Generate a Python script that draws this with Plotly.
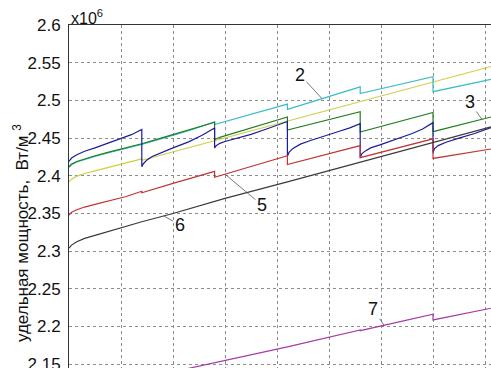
import plotly.graph_objects as go

# ---- data (values in units of 10^6 W/m^3) ----
x_blue = [0, 0.05, 0.15, 0.3, 0.5, 0.75, 1.0, 1.2, 1.4,
          1.4, 1.43, 1.5, 1.6, 1.75, 2.0, 2.3, 2.55, 2.8,
          2.8, 2.83, 2.9, 3.0, 3.2, 3.5, 3.8, 4.0, 4.2,
          4.2, 4.23, 4.3, 4.45, 4.63, 4.9, 5.2, 5.4, 5.6,
          5.6, 5.63, 5.7, 5.8, 5.98, 6.3, 6.6, 6.8, 7.0,
          7.0, 7.03, 7.1, 7.25, 7.5, 7.8, 8.115]
y_blue = [2.419, 2.4235, 2.428, 2.4325, 2.437, 2.443, 2.449, 2.4545, 2.4615,
          2.412, 2.416, 2.421, 2.4255, 2.430, 2.437, 2.445, 2.4535, 2.4635,
          2.437, 2.440, 2.443, 2.4455, 2.449, 2.455, 2.462, 2.4665, 2.472,
          2.426, 2.431, 2.436, 2.442, 2.4465, 2.452, 2.459, 2.4635, 2.469,
          2.424, 2.429, 2.433, 2.437, 2.441, 2.4485, 2.456, 2.462, 2.4705,
          2.431, 2.436, 2.440, 2.4445, 2.450, 2.456, 2.464]

x_green = [0, 0.05, 0.15, 0.3, 0.5, 0.8, 1.1, 1.4, 1.8, 2.3, 2.8,
           2.8, 2.9, 4.2, 4.2, 5.6, 5.6, 7.0, 7.0, 8.115]
y_green = [2.412, 2.4155, 2.419, 2.4225, 2.4265, 2.432, 2.437, 2.4425, 2.4505, 2.4605, 2.471,
           2.448, 2.451, 2.478, 2.4607, 2.485, 2.458, 2.484, 2.4585, 2.478]

x_cyan = [0, 0.05, 0.15, 0.3, 0.5, 0.8, 1.1, 1.4, 1.8, 2.3, 2.8,
          2.8, 4.2, 4.2, 5.6, 5.6, 7.0, 7.0, 8.115]
y_cyan = [2.4112, 2.4147, 2.4182, 2.4217, 2.4257, 2.4312, 2.4362, 2.4417, 2.4497, 2.4597, 2.4715,
          2.468, 2.495, 2.488, 2.518, 2.509, 2.5315, 2.5116, 2.528]

x_yellow = [0, 0.05, 0.15, 0.3, 0.5, 0.8, 1.1, 1.4,
            1.4, 2.8, 2.8, 4.2, 4.2, 5.6, 5.6, 7.0, 7.0, 8.115]
y_yellow = [2.392, 2.3955, 2.3995, 2.403, 2.4065, 2.4115, 2.4165, 2.4225,
            2.4205, 2.4465, 2.4455, 2.4725, 2.4715, 2.4985, 2.4975, 2.5245, 2.5235, 2.545]

x_red = [0, 0.05, 0.15, 0.3, 0.5, 0.8, 1.1, 1.4,
         1.4, 2.0, 2.8, 2.8, 4.2, 4.2, 5.6, 5.6, 7.0, 7.0, 8.115]
y_red = [2.348, 2.3515, 2.355, 2.3585, 2.362, 2.367, 2.3725, 2.3795,
         2.3775, 2.390, 2.4058, 2.398, 2.4265, 2.415, 2.440, 2.424, 2.449, 2.423, 2.4355]

x_black = [0, 0.05, 0.15, 0.3, 0.5, 0.8, 1.1, 1.4, 2.0, 2.8, 3.0, 4.2, 5.6, 7.0, 8.115]
y_black = [2.304, 2.308, 2.3125, 2.317, 2.321, 2.327, 2.3335, 2.339, 2.350, 2.366, 2.370,
           2.392, 2.418, 2.445, 2.465]

x_magenta = [0, 2.6, 4.2, 5.6, 5.6, 7.0, 7.0, 8.115]
y_magenta = [2.110, 2.149, 2.173, 2.1955, 2.1945, 2.2163, 2.2088, 2.2243]

y_ticks = [2.15, 2.2, 2.25, 2.3, 2.35, 2.4, 2.45, 2.5, 2.55, 2.6]
y_tick_text = ["2.15", "2.2", "2.25", "2.3", "2.35", "2.4", "2.45", "2.5", "2.55", "2.6"]

# curve labels: (text, x, y on curve, text offset in px)
labels = [("2", 4.865, 2.5023, -22, -24),
          ("3", 7.94, 2.4749, -12, -17),
          ("5", 3.0, 2.4021, 37, 31),
          ("6", 1.82, 2.3468, 16, 9),
          ("7", 6.06, 2.2017, -11, -16)]

series = [
    (x_yellow, y_yellow, "#cfcf48"),
    (x_cyan, y_cyan, "#3cbcc4"),
    (x_green, y_green, "#1f7f1f"),
    (x_blue, y_blue, "#1c1c9c"),
    (x_red, y_red, "#c03434"),
    (x_black, y_black, "#3a3a3a"),
    (x_magenta, y_magenta, "#a63aa6"),
]

fig = go.Figure()
for xs, ys, col in series:
    fig.add_trace(go.Scatter(x=xs, y=ys, mode="lines",
                             line=dict(color=col, width=1.2), showlegend=False))

font_main = "Liberation Sans, Arial, sans-serif"

for txt, lx, ly, ax, ay in labels:
    fig.add_annotation(x=lx, y=ly, text=txt, showarrow=True, arrowhead=0,
                       arrowwidth=0.8, arrowcolor="#555555", ax=ax, ay=ay,
                       standoff=0, font=dict(family=font_main, size=18, color="#111"))

fig.add_annotation(xref="paper", yref="paper", x=0.0, y=1.0, xanchor="left",
                   yanchor="bottom", text="x10<sup>6</sup>", showarrow=False,
                   font=dict(family=font_main, size=16, color="#111"), yshift=-4)

fig.add_annotation(xref="paper", yref="paper", x=(21 - 69) / 422, y=1 - (233 - 25) / 343,
                   xanchor="center", yanchor="middle", textangle=-90,
                   text="удельная мощность,  Вт/м <sup>3</sup>", showarrow=False,
                   font=dict(family=font_main, size=17, color="#111"))

fig.update_layout(
    width=491, height=368,
    margin=dict(l=69, r=0, t=25, b=0, autoexpand=False),
    paper_bgcolor="white", plot_bgcolor="white",
    xaxis=dict(range=[0, 422 / 52], dtick=1, tick0=0, showticklabels=False,
               showgrid=True, gridcolor="#8c8c8c", griddash="dot", gridwidth=1,
               zeroline=False, showline=True, linecolor="#333", linewidth=1,
               side="top", ticks="", automargin=False),
    yaxis=dict(range=[2.145, 2.6], tickvals=y_ticks, ticktext=y_tick_text,
               showgrid=True, gridcolor="#8c8c8c", griddash="dot", gridwidth=1,
               zeroline=False, showline=True, linecolor="#333", linewidth=1,
               ticks="", ticklabelstandoff=4, automargin=False,
               ticklabeloverflow="allow",
               tickfont=dict(family=font_main, size=17, color="#111")),
)

fig.write_html("out.html",
               config={"displayModeBar": False},
               post_script="document.body.style.margin='0';"
                           "document.body.style.overflow='hidden';")
